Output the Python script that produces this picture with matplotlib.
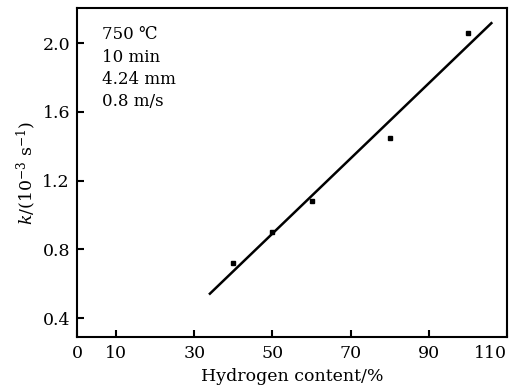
import numpy as np
import matplotlib.pyplot as plt

plt.rcParams['font.family'] = ['DejaVu Serif']
plt.rcParams['mathtext.fontset'] = 'dejavuserif'

# measured points
hydrogen = [40, 50, 60, 80, 100]
k_rate = [0.72, 0.90, 1.08, 1.45, 2.06]

# fit line drawn between these x values
fit_range = [34, 106]

xticks = [0, 10, 30, 50, 70, 90, 110]
yticks = [0.4, 0.8, 1.2, 1.6, 2.0]

conditions = ["750 \u2103", "10 min", "4.24 mm", "0.8 m/s"]

slope, icpt = np.polyfit(hydrogen, k_rate, 1)
xf = np.array(fit_range)

fig = plt.figure(figsize=(5.2, 3.86), dpi=100)
ax = fig.add_axes([77 / 520, 1 - 337 / 386, 430 / 520, 329 / 386])

ax.plot(xf, slope * xf + icpt, color="black", lw=1.8)
ax.plot(hydrogen, k_rate, "s", color="black", ms=3.5)

ax.set_xlim(0, 109.5)
ax.set_ylim(0.29, 2.205)
ax.set_xticks(xticks)
ax.set_yticks(yticks)
ax.set_yticklabels([f"{v:.1f}" for v in yticks])
ax.tick_params(direction="in", length=5, width=1.5, labelsize=12.5, pad=6)
ax.tick_params(axis="y", pad=5)
for s in ax.spines.values():
    s.set_linewidth(1.5)

ax.set_xlabel("Hydrogen content/%", fontsize=12.5, labelpad=4)
ax.set_ylabel(r"$k$/(10$^{-3}$ s$^{-1}$)", fontsize=12.5, labelpad=3)

ax.text(0.058, 0.945, "\n".join(conditions), transform=ax.transAxes,
        fontsize=12, va="top", ha="left", linespacing=1.42)

fig.canvas.draw()
ax.xaxis.get_major_ticks()[-1].label1.set_horizontalalignment("right")

fig.savefig("out.png", dpi=100)
